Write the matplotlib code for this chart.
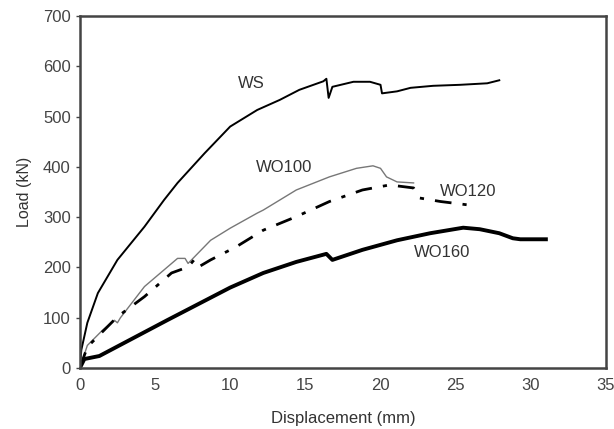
import matplotlib.pyplot as plt

plt.rcParams['font.family'] = ['Liberation Sans', 'DejaVu Sans']

# WS
ws_x = [0, 0.1, 0.5, 1.2, 2.5, 4.3, 5.6, 6.5, 8.3, 10.0, 11.8, 13.3, 14.6, 16.2, 16.4, 16.55, 16.8, 18.2, 19.3, 20.0, 20.1, 21.1, 22.0, 23.5, 25.3, 27.1, 27.9]
ws_y = [0, 36, 90, 149, 215, 281, 334, 368, 427, 480, 513, 533, 553, 570, 575, 537, 559, 569, 569, 563, 546, 550, 557, 561, 563, 566, 572]

# WO100
wo100_x = [0, 0.5, 1.5, 2.3, 2.5, 2.7, 4.3, 6.5, 7.0, 7.2, 8.7, 10.0, 11.8, 12.2, 14.4, 16.6, 18.4, 19.5, 20.0, 20.4, 21.1, 22.2]
wo100_y = [0, 45, 75, 95, 90, 100, 162, 218, 218, 208, 254, 278, 308, 314, 354, 380, 397, 402, 397, 380, 370, 368]

# WO120
wo120_x = [0, 0.5, 2.5, 4.3, 6.1, 7.2, 7.6, 7.9, 8.7, 10.4, 12.2, 14.4, 16.6, 18.8, 20.6, 22.2, 22.6, 24.0, 25.9]
wo120_y = [0, 42, 102, 142, 189, 201, 215, 201, 215, 241, 274, 301, 331, 354, 364, 358, 338, 331, 324]

# WO160
wo160_x = [0, 0.3, 1.3, 5.8, 10.0, 12.2, 14.4, 16.4, 16.8, 18.8, 21.1, 23.3, 25.5, 26.6, 27.9, 28.8, 29.3, 31.0]
wo160_y = [0, 18, 24, 95, 160, 189, 211, 227, 215, 235, 254, 268, 279, 276, 268, 258, 256, 256]

fig, ax = plt.subplots(figsize=(6.14, 4.29), dpi=100)
fig.subplots_adjust(left=0.13, right=0.987, top=0.963, bottom=0.142)

ax.plot(ws_x, ws_y, color='black', linewidth=1.4)
ax.plot(wo100_x, wo100_y, color='#777777', linewidth=1.0)
ax.plot(wo120_x, wo120_y, color='black', linewidth=2.0, linestyle=(0, (6, 4, 1.5, 4)))
ax.plot(wo160_x, wo160_y, color='black', linewidth=2.8)

lab = dict(fontsize=12, ha='center', va='center', color='#333333')
ax.text(11.4, 566, 'WS', **lab)
ax.text(13.6, 399, 'WO100', **lab)
ax.text(25.8, 351, 'WO120', **lab)
ax.text(24.1, 230, 'WO160', **lab)

ax.set_xlim(0, 35)
ax.set_ylim(0, 700)
ax.set_xticks(range(0, 36, 5))
ax.set_yticks(range(0, 701, 100))
ax.set_xlabel('Displacement (mm)', fontsize=12, color='#333333', labelpad=13)
ax.set_ylabel('Load (kN)', fontsize=11.5, color='#333333', labelpad=8)
ax.tick_params(axis='both', labelsize=12, colors='#444444', length=3, width=1)
ax.tick_params(axis='x', length=0, pad=7)
for s in ax.spines.values():
    s.set_color('#444444')
    s.set_linewidth(1.8)

plt.savefig('out.png')
